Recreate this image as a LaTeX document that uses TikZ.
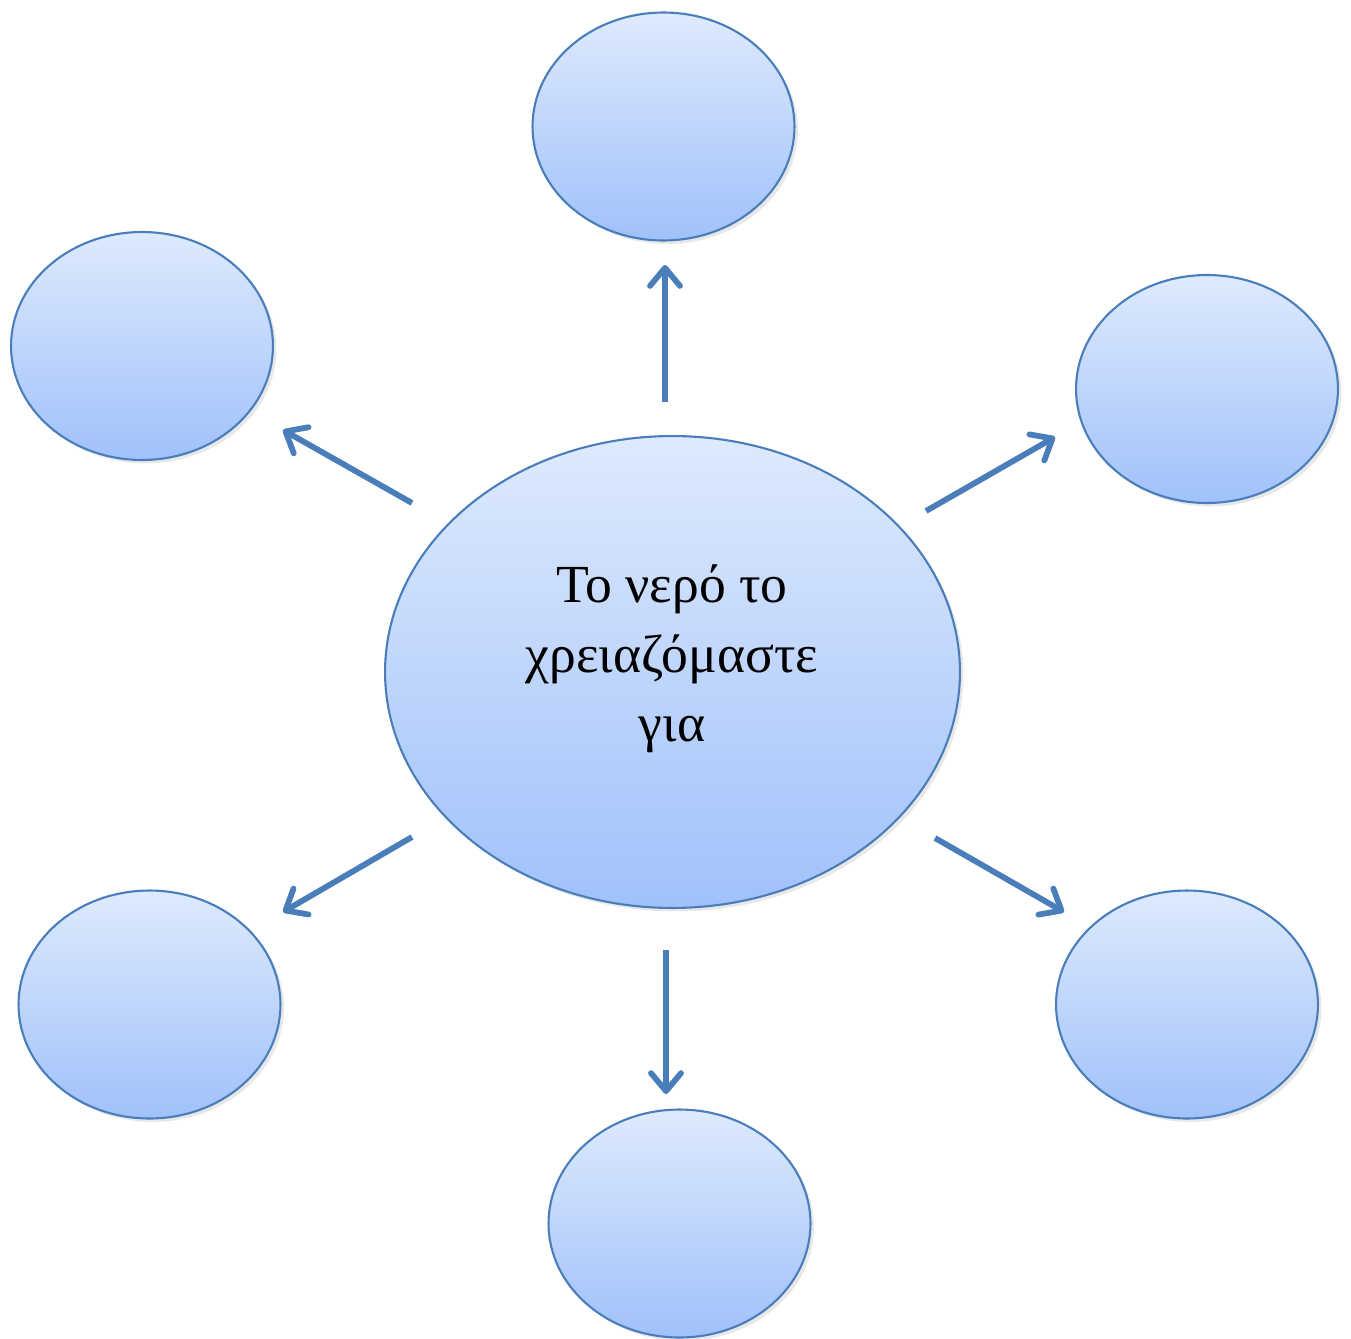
\documentclass[tikz,border=0pt]{standalone}
\usepackage{fontspec}
\setmainfont{Liberation Serif}
\usetikzlibrary{shapes.geometric,arrows.meta,shadows}
\definecolor{edgeblue}{RGB}{74,126,187}
\definecolor{topfill}{RGB}{222,234,253}
\definecolor{botfill}{RGB}{160,193,250}
\begin{document}
\begin{tikzpicture}[x=0.02cm,y=-0.02cm,
  bubble/.style={ellipse, draw=edgeblue, line width=1.2pt, top color=topfill, bottom color=botfill,
    inner sep=0pt, minimum width=5.24cm, minimum height=4.56cm,
    drop shadow={shadow xshift=0.07cm,shadow yshift=-0.07cm,opacity=0.18}},
  arr/.style={draw=edgeblue, line width=3.3pt, -{Straight Barb[length=0.36cm,width=0.6cm,round]}},
  label/.style={align=center, font=\fontsize{30.5}{39.7}\selectfont, text=black}
]
\useasboundingbox (0,0) rectangle (1351,1338);
% satellites
\node[bubble] (top) at (663.5,126.5) {};
\node[bubble] (ul) at (142,346) {};
\node[bubble] (ur) at (1207,389) {};
\node[bubble] (ll) at (149.5,1004.5) {};
\node[bubble] (lr) at (1187,1004.5) {};
\node[bubble] (bot) at (679.5,1223.5) {};
% centre
\node[bubble, minimum width=11.5cm, minimum height=9.44cm] (c) at (672.5,672) {};
\node[label] (txt) at (672,659) {Το νερό το\\χρειαζόμαστε\\για};
% arrow end points
\coordinate (a1s) at (665,402);  \coordinate (a1e) at (665,265);
\coordinate (a2s) at (412,503);  \coordinate (a2e) at (283,430);
\coordinate (a3s) at (926,511);  \coordinate (a3e) at (1055,437);
\coordinate (a4s) at (412,837);  \coordinate (a4e) at (283,912);
\coordinate (a5s) at (666,950);  \coordinate (a5e) at (666,1094);
\coordinate (a6s) at (935,838);  \coordinate (a6e) at (1064,912);
\draw[arr] (a1s) -- (a1e);
\draw[arr] (a2s) -- (a2e);
\draw[arr] (a3s) -- (a3e);
\draw[arr] (a4s) -- (a4e);
\draw[arr] (a5s) -- (a5e);
\draw[arr] (a6s) -- (a6e);
\end{tikzpicture}
\end{document}
